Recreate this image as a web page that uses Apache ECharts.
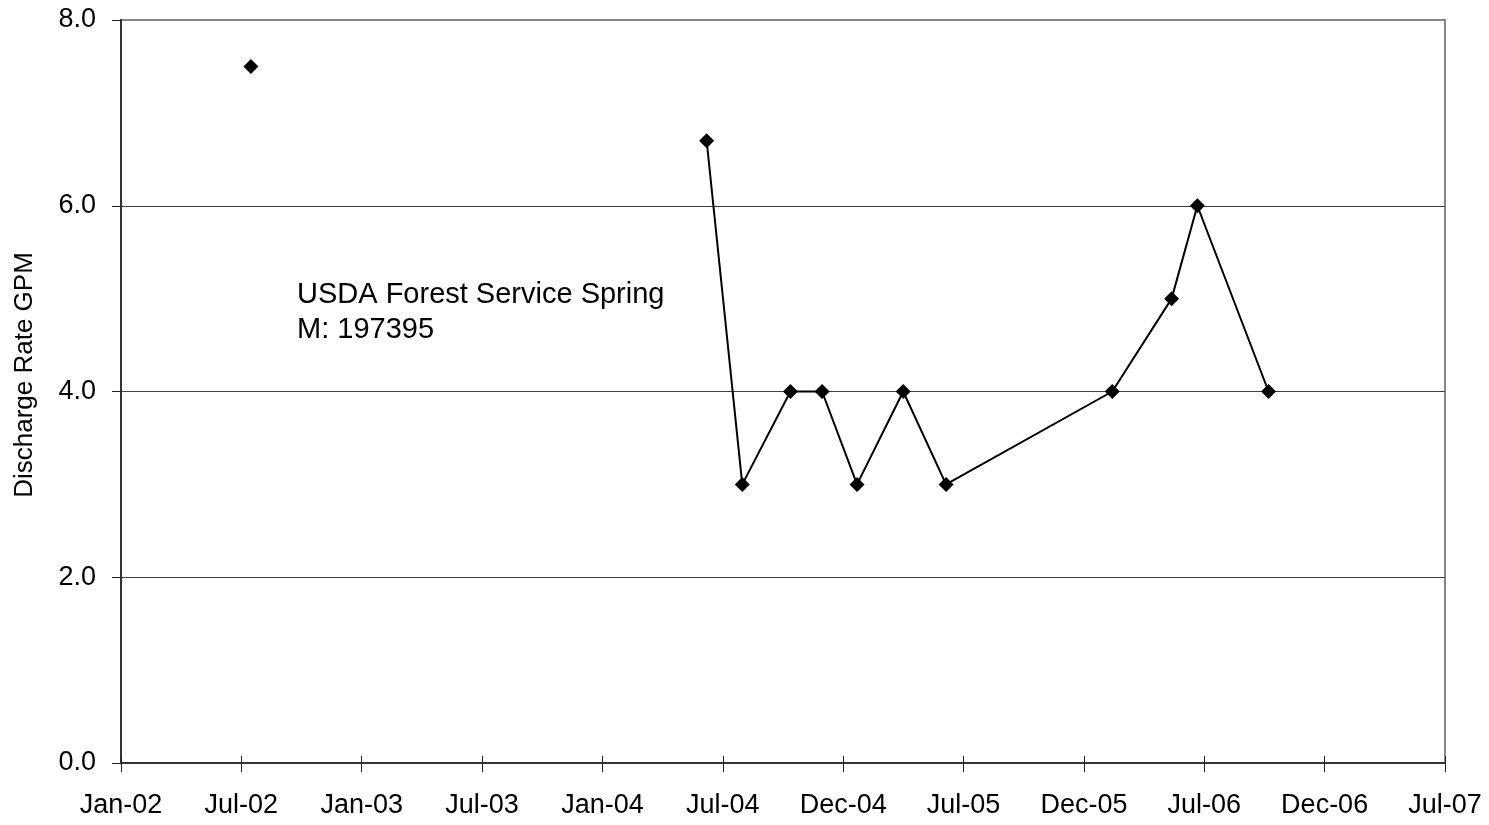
<!DOCTYPE html>
<html>
<head>
<meta charset="utf-8">
<title>Discharge Rate GPM</title>
<script src="https://cdn.jsdelivr.net/npm/echarts@6/dist/echarts.min.js"></script>
<style>
  html, body { margin: 0; padding: 0; background: #ffffff; }
  #chart { width: 1489px; height: 825px; }
</style>
</head>
<body>
<div id="chart"></div>
<script>
// Spring discharge measurements (date, gallons per minute)
const sampleDates = [
  '2002-07-17',
  '2004-06-07', '2004-07-31', '2004-10-12', '2004-11-29',
  '2005-01-21', '2005-04-01', '2005-06-05',
  '2006-02-12', '2006-05-13', '2006-06-21', '2006-10-07'
];
const dischargeGpm = [7.5, 6.7, 3.0, 4.0, 4.0, 3.0, 4.0, 3.0, 4.0, 5.0, 6.0, 4.0];
// readings with the same run number are joined by a line
const runNumber = [0, 1, 1, 1, 1, 1, 1, 1, 1, 1, 1, 1];

const yTicks = [0, 2, 4, 6, 8];
const monthNames = ['Jan','Feb','Mar','Apr','May','Jun','Jul','Aug','Sep','Oct','Nov','Dec'];
const annotationLines = ['USDA Forest Service Spring', 'M: 197395'];
const yTitle = 'Discharge Rate GPM';

// x values are days counted from 1 Jan 2002; ticks every half year
const ORIGIN = Date.UTC(2002, 0, 1);
const DAY = 86400000;
const X_STEP = 182.5;
const X_MAX = 2007.5;

function toDays(s) {
  const p = s.split('-').map(Number);
  return (Date.UTC(p[0], p[1] - 1, p[2]) - ORIGIN) / DAY;
}
function dayLabel(v) {
  const d = new Date(ORIGIN + v * DAY);
  return monthNames[d.getUTCMonth()] + '-' + String(d.getUTCFullYear() % 100).padStart(2, '0');
}

const runs = {};
sampleDates.forEach((s, i) => {
  (runs[runNumber[i]] = runs[runNumber[i]] || []).push([toDays(s), dischargeGpm[i]]);
});

const FONT = 'Liberation Sans, Arial, sans-serif';

const series = Object.keys(runs).map(k => ({
  type: 'line',
  data: runs[k],
  symbol: 'diamond',
  symbolSize: 15,
  showSymbol: true,
  lineStyle: { color: '#000', width: 2 },
  itemStyle: { color: '#000' },
  animation: false,
  z: 5
}));

const chart = echarts.init(document.getElementById('chart'), null, { renderer: 'canvas' });
chart.setOption({
  backgroundColor: '#ffffff',
  animation: false,
  grid: {
    left: 121, right: 44, top: 20, bottom: 62,
    containLabel: false, outerBoundsMode: 'none',
    show: true, borderColor: '#888888', borderWidth: 2, backgroundColor: 'transparent'
  },
  xAxis: [{
    type: 'value',
    min: 0, max: X_MAX, interval: X_STEP,
    axisLine: { show: true, lineStyle: { color: '#333', width: 2 } },
    axisTick: { show: true, inside: false, length: 9, lineStyle: { color: '#222', width: 1 } },
    axisLabel: {
      formatter: dayLabel, margin: 29, color: '#000',
      fontFamily: FONT, fontSize: 27
    },
    splitLine: { show: false }
  }, {
    type: 'value', position: 'bottom',
    min: 0, max: X_MAX, interval: X_STEP,
    axisLine: { show: false },
    axisTick: { show: true, inside: true, length: 7, lineStyle: { color: '#222', width: 1 } },
    axisLabel: { show: false },
    splitLine: { show: false }
  }],
  yAxis: {
    type: 'value',
    min: yTicks[0], max: yTicks[yTicks.length - 1], interval: yTicks[1] - yTicks[0],
    axisLine: { show: true, lineStyle: { color: '#333', width: 2 } },
    axisTick: { show: true, inside: false, length: 9, lineStyle: { color: '#222', width: 1 } },
    axisLabel: {
      formatter: v => v.toFixed(1), margin: 25, color: '#000',
      fontFamily: FONT, fontSize: 27
    },
    splitLine: {
      show: true,
      lineStyle: { color: ['#404040', '#404040', '#404040', '#404040', '#888888'], width: 1 }
    }
  },
  graphic: [{
    type: 'text',
    x: 25, y: 375,
    rotation: Math.PI / 2,
    style: {
      text: yTitle,
      font: '26px ' + FONT,
      align: 'center',
      verticalAlign: 'middle',
      fill: '#000'
    }
  }, {
    type: 'text',
    left: 297, top: 277,
    style: {
      text: annotationLines.join('\n'),
      font: '29px ' + FONT,
      lineHeight: 35,
      fill: '#000'
    }
  }],
  series: series
});
</script>
</body>
</html>
